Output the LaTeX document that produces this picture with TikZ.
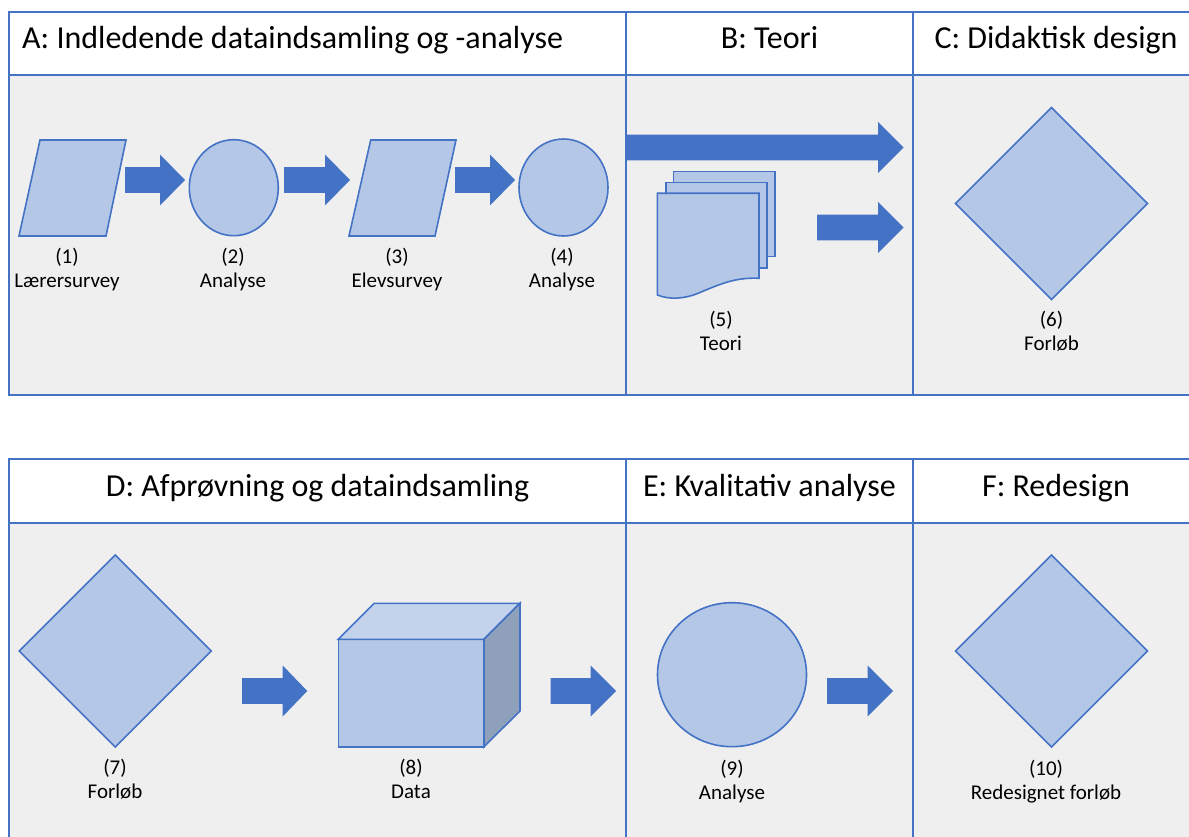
\documentclass[tikz,border=0pt]{standalone}
\usepackage{fontspec}
\setmainfont{Carlito}
\definecolor{frameblue}{HTML}{4472C4}
\definecolor{shapefill}{HTML}{B4C7E7}
\definecolor{panelgray}{HTML}{EFEFEF}
\definecolor{cubetop}{HTML}{C4D3EC}
\definecolor{cubeside}{HTML}{8FA0BA}
% block arrow: tail x, neck x, tip x, centre y
\newcommand\bluearrow[4]{%
  \fill[frameblue] (#1,#4-12.8) -- (#2,#4-12.8) -- (#2,#4-25.5) -- (#3,#4)
    -- (#2,#4+25.5) -- (#2,#4+12.8) -- (#1,#4+12.8) -- cycle;}
\tikzset{
  frame/.style={draw=frameblue, line width=2pt},
  shapebox/.style={draw=frameblue, fill=shapefill, line width=1.6pt, line join=miter},
  head/.style={font=\fontsize{32}{36}\selectfont, inner sep=0pt, anchor=base},
  lbl/.style={font=\fontsize{21}{25}\selectfont, inner sep=0pt, anchor=base},
}
\begin{document}
\begin{tikzpicture}[x=1pt,y=-1pt]
\clip (0,0) rectangle (1189,837);
\fill[white] (0,0) rectangle (1189,837);

% panel backgrounds
\fill[white] (9,12) rectangle (1200,75);
\fill[panelgray] (9,75) rectangle (1200,395);
\fill[white] (9,459) rectangle (1200,523);
\fill[panelgray] (9,523) rectangle (1200,850);

% ---- A: initial data collection ----
\draw[shapebox] (40,140) -- (126,140) -- (106,236) -- (19,236) -- cycle;
\bluearrow{125}{160}{185}{180}
\draw[shapebox] (233.8,187.7) ellipse [x radius=44.5pt, y radius=48pt];
\bluearrow{284}{325}{350}{180}
\draw[shapebox] (370.7,140) -- (456,140) -- (435,236) -- (349,236) -- cycle;
\bluearrow{455}{490}{515}{180}
\draw[shapebox] (563.5,187.5) ellipse [x radius=44.5pt, y radius=48.5pt];

\node[lbl] (n1) at (67,263.3) {(1)};
\node[lbl] (t1) at (67,287.3) {Lærersurvey};
\node[lbl] (n2) at (233,263.3) {(2)};
\node[lbl] (t2) at (233,287.3) {Analyse};
\node[lbl] (n3) at (397,263.3) {(3)};
\node[lbl] (t3) at (397,287.3) {Elevsurvey};
\node[lbl] (n4) at (562,263.3) {(4)};
\node[lbl] (t4) at (562,287.3) {Analyse};

% ---- B: theory ----
\bluearrow{626}{878}{903.5}{147.5}
\bluearrow{817}{878}{903.5}{227.5}
\draw[shapebox] (673.3,171.7) rectangle (775,256.7);
\draw[shapebox] (666,182.7) rectangle (766.7,268.3);
\draw[shapebox] (657.3,193.3) -- (759,193.3) -- (759,278.3)
  .. controls (735,277) and (718,285) .. (700,292.5)
  .. controls (685,299) and (670,300) .. (657.3,295) -- cycle;
\node[lbl] (n5) at (721,326.5) {(5)};
\node[lbl] (t5) at (721,350.5) {Teori};

% ---- C: didactic design ----
\draw[shapebox] (1051.5,107.5) -- (1147.5,203.5) -- (1051.5,299.5) -- (955.5,203.5) -- cycle;
\node[lbl] (n6) at (1051.5,326.5) {(6)};
\node[lbl] (t6) at (1051.5,350.5) {Forløb};

% ---- D: trial and data collection ----
\draw[shapebox] (115.3,555) -- (211.3,651) -- (115.3,747) -- (19.3,651) -- cycle;
\bluearrow{242}{282.7}{307.3}{691}
\draw[shapebox] (338.3,639.3) rectangle (484,746.7);
\draw[shapebox, fill=cubetop] (338.3,639.3) -- (374.3,603.3) -- (520,603.3) -- (484,639.3) -- cycle;
\draw[shapebox, fill=cubeside] (484,639.3) -- (520,603.3) -- (520,711) -- (484,746.7) -- cycle;
\bluearrow{550.7}{590.7}{616}{691}
\node[lbl] (n7) at (115,774.5) {(7)};
\node[lbl] (t7) at (115,798.5) {Forløb};
\node[lbl] (n8) at (411,774.5) {(8)};
\node[lbl] (t8) at (411,798.5) {Data};

% ---- E: qualitative analysis ----
\draw[shapebox] (732,674.7) ellipse [x radius=74.5pt, y radius=72pt];
\bluearrow{827}{867.5}{893}{691}
\node[lbl] (n9) at (732,775) {(9)};
\node[lbl] (t9) at (732,799) {Analyse};

% ---- F: redesign ----
\draw[shapebox] (1051.5,555) -- (1147.5,651) -- (1051.5,747) -- (955.5,651) -- cycle;
\node[lbl] (n10) at (1046,775) {(10)};
\node[lbl] (t10) at (1046,799) {Redesignet forløb};

% panel frames
\draw[frame] (1200,12) -- (9,12) -- (9,395) -- (1200,395);
\draw[frame] (9,75) -- (1200,75);
\draw[frame] (626,12) -- (626,395);
\draw[frame] (913,12) -- (913,395);
\draw[frame] (1200,459) -- (9,459) -- (9,850);
\draw[frame] (9,523) -- (1200,523);
\draw[frame] (626,459) -- (626,850);
\draw[frame] (913,459) -- (913,850);

% column headings
\node[head, anchor=base west] (hA) at (22,48.3) {A: Indledende dataindsamling og -analyse};
\node[head] (hB) at (769.5,48.3) {B: Teori};
\node[head] (hC) at (1056,48.3) {C: Didaktisk design};
\node[head] (hD) at (317.5,496) {D: Afprøvning og dataindsamling};
\node[head] (hE) at (769.5,496) {E: Kvalitativ analyse};
\node[head] (hF) at (1056,496) {F: Redesign};
\end{tikzpicture}
\end{document}
